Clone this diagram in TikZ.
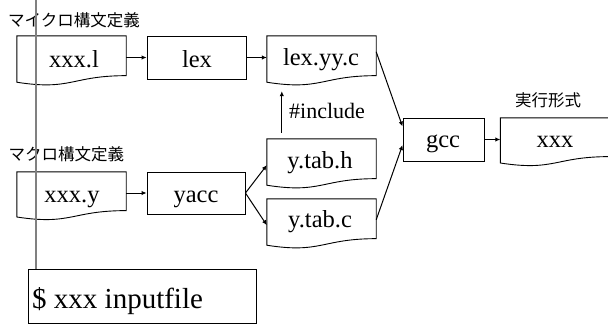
\documentclass[tikz,border=0pt]{standalone}
\usepackage{fontspec}
\setmainfont{Liberation Serif}
\newfontfamily\jpfont{Noto Sans CJK JP}
\usetikzlibrary{calc,arrows.meta}
\tikzset{
  boxline/.style={draw=black, line width=0.9pt},
  rbox/.style={boxline, rectangle, inner sep=0pt, minimum width=#1},
  holder/.style={rectangle, inner sep=0pt, minimum width=109pt, minimum height=49.3pt},
  lbl/.style={font=\fontsize{24.5}{26}\selectfont, inner sep=0pt, anchor=base},
  jlbl/.style={font=\jpfont\fontsize{16.5}{18}\selectfont, inner sep=0pt},
  arr/.style={line width=1pt, -{Latex[length=5pt,width=4.5pt]}},
}
\newcommand\mydocpath[1]{%
  \draw[boxline] (#1.north west) -- (#1.north east)
    -- ($(#1.north east)!0.802!(#1.south east)$)
    .. controls ($(#1.north)!0.802!(#1.south)$) and ($(#1.north)!1.1075!(#1.south)$)
    .. ($(#1.north west)!0.934!(#1.south west)$) -- cycle;}
\begin{document}
\begin{tikzpicture}[x=1pt,y=-1pt]
\useasboundingbox[fill=white] (0,0) rectangle (608,324);
% document holders
\node[holder] (xl) at (71.5,60.65) {};
\node[holder] (lexyy) at (321.5,60.65) {};
\node[holder] (ytabh) at (321.5,163.65) {};
\node[holder] (ytabc) at (321.5,223.65) {};
\node[holder, minimum height=48pt] (xy) at (71.5,196) {};
\node[holder, minimum height=48pt] (exe) at (555,142) {};
\mydocpath{xl}
\mydocpath{lexyy}
\mydocpath{ytabh}
\mydocpath{ytabc}
\mydocpath{xy}
\mydocpath{exe}
% rectangles
\node[rbox=99pt, minimum height=43pt] (lex) at (196.5,57.5) {};
\node[rbox=98pt, minimum height=42pt] (yacc) at (196,193) {};
\node[rbox=81pt, minimum height=43pt] (gcc) at (443.5,139.5) {};
\node[rbox=228pt, minimum height=54pt] (cmd) at (142,296) {};
% texts
\node[lbl] (txl) at (74,67) {xxx.l};
\node[lbl] (tlex) at (197,67) {lex};
\node[lbl] (tlexyy) at (321,65) {lex.yy.c};
\node[lbl] (tytabh) at (320,168) {y.tab.h};
\node[lbl] (tytabc) at (320,227) {y.tab.c};
\node[lbl] (txy) at (72,202) {xxx.y};
\node[lbl] (tyacc) at (196,202) {yacc};
\node[lbl] (tgcc) at (443,147) {gcc};
\node[lbl] (texe) at (555,147) {xxx};
\node[lbl, anchor=base west, font=\fontsize{29}{31}\selectfont] (tcmd) at (32,308) {\$ xxx inputfile};
\node[lbl, anchor=base west, font=\fontsize{22}{24}\selectfont] (tinc) at (289,118) {\#include};
\node[jlbl] (jlex) at (74,20) {マイクロ構文定義};
\node[jlbl] (jyacc) at (66.5,154) {マクロ構文定義};
\node[jlbl] (jexe) at (548,100) {実行形式};
% connectors
\draw[arr] (lex.west -| xl.east) -- (lex.west);
\draw[arr] (lex.east) -- (lex.east -| lexyy.west);
\draw[arr] (yacc.west -| xy.east) -- (yacc.west);
\draw[arr] (yacc.east) -- ($(ytabh.west)+(0,1.5)$);
\draw[arr] (yacc.east) -- ($(ytabc.west)+(0,1.5)$);
\draw[arr] ($(ytabh.north west)+(15,-6)$) -- ($(lexyy.south west)+(15,5.7)$);
\draw[arr] ($(lexyy.north east)+(0,16)$) -- ($(gcc.north west)+(0,9)$);
\draw[arr] ($(ytabc.north east)+(0,21)$) -- ($(gcc.west)+(0,5.5)$);
\draw[arr] (gcc.east) -- (gcc.east -| exe.west);
% gray guide line
\coordinate (gtop) at (36,0);
\draw[gray, line width=1.2pt] (gtop) -- (gtop |- cmd.north);
\end{tikzpicture}
\end{document}
